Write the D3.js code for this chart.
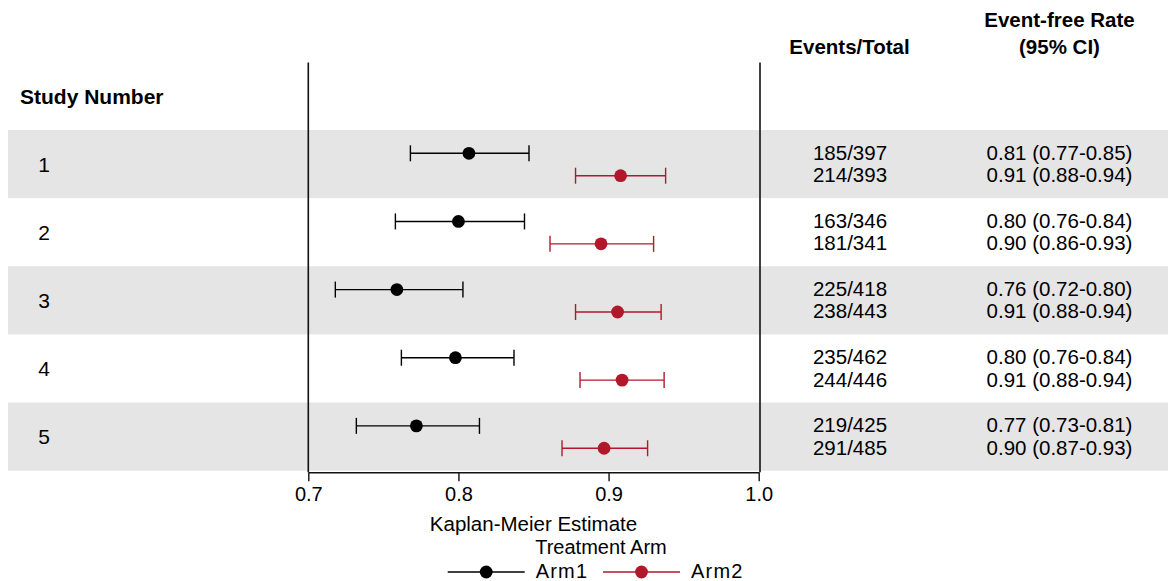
<!DOCTYPE html>
<html>
<head>
<meta charset="utf-8">
<script src="https://cdn.jsdelivr.net/npm/d3@7"></script>
<style>
  body { margin: 0; background: #fff; }
  svg { display: block; font-family: 'Liberation Sans', Arial, sans-serif; }
</style>
</head>
<body>
<svg id="root"></svg>
<script>
const studies = ['1', '2', '3', '4', '5'];
const arms = ['Arm1', 'Arm2'];

// Kaplan-Meier estimates (Arm1, Arm2 per study)
const arm1Est = [0.807, 0.800, 0.759, 0.798, 0.772];
const arm1Lo = [0.768, 0.758, 0.718, 0.762, 0.732];
const arm1Hi = [0.847, 0.844, 0.803, 0.837, 0.814];
const arm2Est = [0.908, 0.895, 0.906, 0.909, 0.897];
const arm2Lo = [0.878, 0.861, 0.878, 0.881, 0.869];
const arm2Hi = [0.938, 0.930, 0.935, 0.937, 0.926];

const arm1Counts = ['185/397', '163/346', '225/418', '235/462', '219/425'];
const arm2Counts = ['214/393', '181/341', '238/443', '244/446', '291/485'];
const arm1Rates = ['0.81 (0.77-0.85)', '0.80 (0.76-0.84)', '0.76 (0.72-0.80)', '0.80 (0.76-0.84)', '0.77 (0.73-0.81)'];
const arm2Rates = ['0.91 (0.88-0.94)', '0.90 (0.86-0.93)', '0.91 (0.88-0.94)', '0.91 (0.88-0.94)', '0.90 (0.87-0.93)'];

const xTicks = [0.7, 0.8, 0.9, 1.0];
const colors = { Arm1: '#000000', Arm2: '#b2182b' };

const width = 1168;
const height = 581;

const svg = d3.select('#root')
  .attr('width', width)
  .attr('height', height)
  .attr('viewBox', `0 0 ${width} ${height}`);

const rows = [];
studies.forEach((s, i) => {
  rows.push({ study: s, arm: 'Arm1', est: arm1Est[i], lo: arm1Lo[i], hi: arm1Hi[i], n: arm1Counts[i], rate: arm1Rates[i] });
  rows.push({ study: s, arm: 'Arm2', est: arm2Est[i], lo: arm2Lo[i], hi: arm2Hi[i], n: arm2Counts[i], rate: arm2Rates[i] });
});

const x = d3.scaleLinear().domain([0.7, 1.0]).range([308.3, 758.7]);
const y = d3.scaleBand().domain(studies).range([130, 470.7]);
const armY = d3.scalePoint().domain(arms).range([23.3, 45.7]);
const rowY = d => y(d.study) + armY(d.arm);

// Shaded bands for alternating studies
svg.append('g')
  .selectAll('rect')
  .data(studies.filter((_, i) => i % 2 === 0))
  .join('rect')
  .attr('x', 8)
  .attr('y', d => y(d))
  .attr('width', width - 8)
  .attr('height', y.bandwidth())
  .attr('fill', '#e5e5e5');

// Frame lines
const frameTop = 62.5;
const frameBottom = 472.3;
svg.append('line')
  .attr('x1', x(0.7)).attr('x2', x(0.7))
  .attr('y1', frameTop).attr('y2', frameBottom)
  .attr('stroke', '#111').attr('stroke-width', 1.6);
svg.append('line')
  .attr('x1', x(1.0) + 1.3).attr('x2', x(1.0) + 1.3)
  .attr('y1', frameTop).attr('y2', frameBottom)
  .attr('stroke', '#111').attr('stroke-width', 1.6);

// Axis
const axis = svg.append('g')
  .attr('transform', `translate(0,${frameBottom})`)
  .call(d3.axisBottom(x).tickValues(xTicks).tickFormat(d3.format('.1f')).tickSize(9).tickPadding(6).tickSizeOuter(0));
axis.select('.domain').attr('stroke', '#111').attr('stroke-width', 1.6);
axis.selectAll('.tick line').attr('stroke', '#111').attr('stroke-width', 1.4);
axis.selectAll('.tick text')
  .attr('font-size', 20)
  .attr('font-family', "'Liberation Sans', Arial, sans-serif")
  .attr('fill', '#000');

svg.append('text')
  .attr('x', (x(0.7) + x(1.0)) / 2)
  .attr('y', 530.7)
  .attr('text-anchor', 'middle')
  .attr('font-size', 20.5)
  .text('Kaplan-Meier Estimate');

// Error bars
const bars = svg.append('g')
  .selectAll('g')
  .data(rows)
  .join('g')
  .attr('stroke', d => colors[d.arm])
  .attr('stroke-width', 1.4);
bars.append('line')
  .attr('x1', d => x(d.lo)).attr('x2', d => x(d.hi))
  .attr('y1', rowY).attr('y2', rowY);
bars.append('line')
  .attr('x1', d => x(d.lo)).attr('x2', d => x(d.lo))
  .attr('y1', d => rowY(d) - 8).attr('y2', d => rowY(d) + 8);
bars.append('line')
  .attr('x1', d => x(d.hi)).attr('x2', d => x(d.hi))
  .attr('y1', d => rowY(d) - 8).attr('y2', d => rowY(d) + 8);
bars.append('circle')
  .attr('cx', d => x(d.est))
  .attr('cy', rowY)
  .attr('r', 6.4)
  .attr('stroke', 'none')
  .attr('fill', d => colors[d.arm]);

// Study labels
svg.append('text')
  .attr('x', 20)
  .attr('y', 104)
  .attr('font-size', 21)
  .attr('font-weight', 'bold')
  .text('Study Number');
svg.append('g')
  .selectAll('text')
  .data(studies)
  .join('text')
  .attr('x', 44)
  .attr('y', d => y(d) + y.bandwidth() / 2 + 7.5)
  .attr('text-anchor', 'middle')
  .attr('font-size', 21)
  .text(d => d);

// Table columns
svg.append('text')
  .attr('x', 849.5).attr('y', 54)
  .attr('text-anchor', 'middle')
  .attr('font-size', 20.5)
  .attr('font-weight', 'bold')
  .text('Events/Total');
svg.append('text')
  .attr('x', 1059.5).attr('y', 27.3)
  .attr('text-anchor', 'middle')
  .attr('font-size', 20.5)
  .attr('font-weight', 'bold')
  .text('Event-free Rate');
svg.append('text')
  .attr('x', 1059.5).attr('y', 54)
  .attr('text-anchor', 'middle')
  .attr('font-size', 20.5)
  .attr('font-weight', 'bold')
  .text('(95% CI)');

svg.append('g')
  .selectAll('text')
  .data(rows)
  .join('text')
  .attr('x', 850)
  .attr('y', d => rowY(d) + 6.5)
  .attr('text-anchor', 'middle')
  .attr('font-size', 20.5)
  .text(d => d.n);
svg.append('g')
  .selectAll('text')
  .data(rows)
  .join('text')
  .attr('x', 1059.5)
  .attr('y', d => rowY(d) + 6.5)
  .attr('text-anchor', 'middle')
  .attr('font-size', 20.5)
  .text(d => d.rate);

// Legend
svg.append('text')
  .attr('x', 601)
  .attr('y', 554)
  .attr('text-anchor', 'middle')
  .attr('font-size', 20)
  .text('Treatment Arm');
const legendX = d3.scalePoint().domain(arms).range([447.7, 603]);
const legend = svg.append('g')
  .selectAll('g')
  .data(arms)
  .join('g')
  .attr('transform', d => `translate(${legendX(d)},572)`);
legend.append('line')
  .attr('x1', 0).attr('x2', 77)
  .attr('stroke', d => colors[d])
  .attr('stroke-width', 1.4);
legend.append('circle')
  .attr('cx', 38.5)
  .attr('r', 6.4)
  .attr('fill', d => colors[d]);
legend.append('text')
  .attr('x', 88)
  .attr('y', 6)
  .attr('font-size', 20)
  .attr('letter-spacing', 1.2)
  .text(d => d);
</script>
</body>
</html>
